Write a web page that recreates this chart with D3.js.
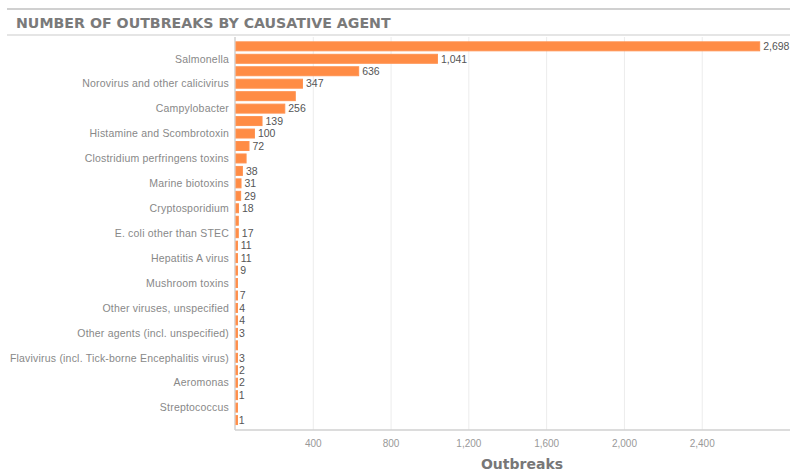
<!DOCTYPE html>
<html>
<head>
<meta charset="utf-8">
<script src="https://cdn.jsdelivr.net/npm/d3@7"></script>
<style>
  html, body { margin: 0; padding: 0; background: #fff; }
  svg { display: block; }
</style>
</head>
<body>
<svg id="chart" width="790" height="471"></svg>
<script>
const title = "NUMBER OF OUTBREAKS BY CAUSATIVE AGENT";
const axisTitle = "Outbreaks";
const categories = [
  "Unknown",
  "Salmonella",
  "Bacterial toxins, unspecified",
  "Norovirus and other calicivirus",
  "Staphylococcus aureus toxins",
  "Campylobacter",
  "Bacillus cereus toxins",
  "Histamine and Scombrotoxin",
  "Shiga toxin-producing E. coli (STEC)",
  "Clostridium perfringens toxins",
  "Listeria monocytogenes",
  "Marine biotoxins",
  "Trichinella",
  "Cryptosporidium",
  "Shigella",
  "E. coli other than STEC",
  "Yersinia",
  "Hepatitis A virus",
  "Clostridium botulinum toxins",
  "Mushroom toxins",
  "Brucella",
  "Other viruses, unspecified",
  "Giardia",
  "Other agents (incl. unspecified)",
  "Vibrio parahaemolyticus",
  "Flavivirus (incl. Tick-borne Encephalitis virus)",
  "Anisakis",
  "Aeromonas",
  "Francisella",
  "Streptococcus",
  "Enterococcus"
];
const outbreaks = [2698, 1041, 636, 347, 310, 256, 139, 100, 72, 57, 38, 31, 29, 18, 17, 17, 11, 11, 9, 8, 7, 4, 4, 3, 3, 3, 2, 2, 1, 1, 1];
const xTicks = [400, 800, 1200, 1600, 2000, 2400];

const data = categories.map((c, i) => ({ name: c, value: outbreaks[i], i }));

const svg = d3.select("#chart");
const W = 790;

// header lines + title
svg.append("line").attr("x1", 7).attr("x2", W).attr("y1", 9).attr("y2", 9)
  .attr("stroke", "#d0d0d0").attr("stroke-width", 2);
svg.append("line").attr("x1", 7).attr("x2", W).attr("y1", 35).attr("y2", 35)
  .attr("stroke", "#dcdcdc").attr("stroke-width", 1.5);
svg.append("text").attr("x", 16).attr("y", 27.5)
  .attr("font-family", "DejaVu Sans, Verdana, sans-serif")
  .attr("font-weight", "bold").attr("font-size", 14.2)
  .attr("fill", "#7a7a7a").text(title);

const plotTop = 37, plotBottom = 430;
const x = d3.scaleLinear().domain([0, 2854]).range([235, W]);
const y = d3.scaleBand().domain(categories).range([40.1, 426.3])
  .paddingInner(0.2).paddingOuter(0.1);

// gridlines
const xAxis = d3.axisBottom(x).tickValues(xTicks).tickFormat(d3.format(",")).tickSize(-(plotBottom - plotTop)).tickPadding(10);
const gx = svg.append("g").attr("transform", `translate(0,${plotBottom})`).call(xAxis);
gx.select(".domain").remove();
gx.selectAll(".tick line").attr("stroke", "#ececec");
gx.selectAll(".tick text").attr("fill", "#999").attr("font-size", 10)
  .attr("font-family", "Liberation Sans, Arial, sans-serif");

// axis lines
svg.append("line").attr("x1", 235).attr("x2", W).attr("y1", plotBottom).attr("y2", plotBottom)
  .attr("stroke", "#d0d0d0").attr("stroke-width", 1.5);
svg.append("line").attr("x1", 235).attr("x2", 235).attr("y1", plotTop).attr("y2", plotBottom)
  .attr("stroke", "#d0d0d0").attr("stroke-width", 1.5);

// bars
svg.append("g").selectAll("rect").data(data).join("rect")
  .attr("x", x(0) + 1)
  .attr("y", d => y(d.name) + 0.5)
  .attr("width", d => Math.max(1.5, x(d.value) - x(0) - 1))
  .attr("height", y.bandwidth() - 1)
  .attr("fill", "#ff8c45")
  .attr("stroke", "#ff9250").attr("stroke-width", 1);

// value labels
svg.append("g").selectAll("text").data(data.filter(d => d.i % 5 !== 4)).join("text")
  .attr("x", d => x(d.value) + 3.5)
  .attr("y", d => y(d.name) + y.bandwidth() / 2)
  .attr("dy", "0.36em")
  .attr("font-family", "Liberation Sans, Arial, sans-serif")
  .attr("font-size", 10.5).attr("fill", "#555")
  .text(d => d3.format(",")(d.value));

// category labels (every other)
svg.append("g").selectAll("text").data(data.filter(d => d.i % 2 === 1)).join("text")
  .attr("x", 229)
  .attr("y", d => y(d.name) + y.bandwidth() / 2)
  .attr("dy", "0.36em")
  .attr("text-anchor", "end")
  .attr("font-family", "Liberation Sans, Arial, sans-serif")
  .attr("font-size", 10.5).attr("letter-spacing", 0.2).attr("fill", "#888")
  .text(d => d.name);

// axis title
svg.append("text").attr("x", 522).attr("y", 469).attr("text-anchor", "middle")
  .attr("font-family", "DejaVu Sans, Verdana, sans-serif")
  .attr("font-weight", "bold").attr("font-size", 14).attr("fill", "#777")
  .text(axisTitle);
</script>
</body>
</html>
